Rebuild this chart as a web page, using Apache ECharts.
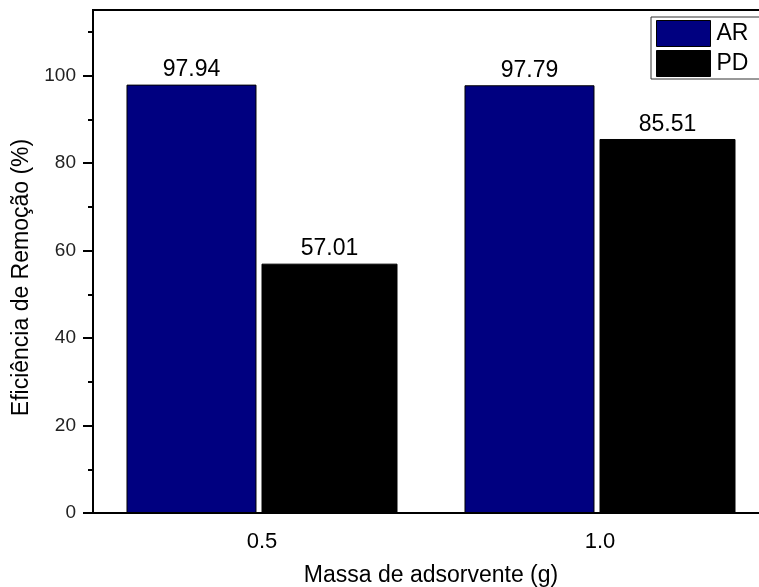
<!DOCTYPE html>
<html>
<head>
<meta charset="utf-8">
<script src="https://cdn.jsdelivr.net/npm/echarts@6/dist/echarts.min.js"></script>
<style>
html,body{margin:0;padding:0;background:#fff;}
#chart{width:759px;height:587px;}
</style>
</head>
<body>
<div id="chart"></div>
<script>
const categories = ['0.5', '1.0'];
const arValues = [97.94, 97.79];
const pdValues = [57.01, 85.51];
const majorTicks = [0, 20, 40, 60, 80, 100];
const minorTicks = [10, 30, 50, 70, 90, 110];
const seriesNames = ['AR', 'PD'];

const FONT = '"Liberation Sans", Arial, sans-serif';
const chart = echarts.init(document.getElementById('chart'));

const labelCfg = {
  show: true, position: 'top', distance: 3,
  color: '#000', fontSize: 23, fontFamily: FONT
};

chart.setOption({
  animation: false,
  backgroundColor: '#fff',
  grid: {
    left: 93, top: 10, width: 676, height: 503,
    containLabel: false, outerBoundsMode: 'none',
    show: true, borderColor: '#000', borderWidth: 2, backgroundColor: 'transparent'
  },
  legend: {
    data: seriesNames,
    orient: 'vertical',
    left: 651, top: 17,
    padding: [3, 60, 2, 5],
    itemWidth: 54, itemHeight: 26, itemGap: 3,
    icon: 'rect',
    borderColor: '#333', borderWidth: 1,
    itemStyle: { borderColor: '#000', borderWidth: 1 },
    textStyle: { fontSize: 23, fontFamily: FONT, color: '#000', padding: [0, 0, 0, 1] }
  },
  xAxis: {
    type: 'category',
    data: categories,
    position: 'bottom',
    name: 'Massa de adsorvente (g)',
    nameLocation: 'middle',
    nameGap: 51,
    nameTextStyle: { fontSize: 23, fontFamily: FONT, color: '#000' },
    axisLine: { show: true, lineStyle: { color: '#000', width: 2 } },
    axisTick: { show: false },
    axisLabel: { margin: 18, fontSize: 22, fontFamily: FONT, color: '#000' },
    splitLine: { show: false }
  },
  yAxis: [{
    type: 'value',
    min: 0, max: 115, interval: 20,
    name: 'Eficiência de Remoção (%)',
    nameLocation: 'middle',
    nameGap: 56,
    nameRotate: 90,
    nameTextStyle: { fontSize: 23, fontFamily: FONT, color: '#000', padding: [0, 32, 0, 0] },
    axisLine: { show: true, lineStyle: { color: '#000', width: 2 } },
    axisTick: { show: true, inside: false, length: 10, customValues: majorTicks, lineStyle: { color: '#000', width: 2 } },
    axisLabel: { margin: 17, fontSize: 19, fontFamily: FONT, color: '#222', customValues: majorTicks },
    splitLine: { show: false }
  }, {
    type: 'value',
    min: 0, max: 115, interval: 10,
    position: 'left',
    axisLine: { show: false },
    axisTick: { show: true, inside: false, length: 5, customValues: minorTicks, lineStyle: { color: '#000', width: 2 } },
    axisLabel: { show: false },
    splitLine: { show: false }
  }],
  series: [{
    name: seriesNames[0],
    type: 'bar',
    data: arValues,
    barWidth: 130,
    barGap: '3.85%',
    itemStyle: { color: '#000080', borderColor: '#000', borderWidth: 1 },
    label: labelCfg
  }, {
    name: seriesNames[1],
    type: 'bar',
    data: pdValues,
    barWidth: 136,
    barGap: '3.85%',
    itemStyle: { color: '#000000', borderColor: '#000', borderWidth: 1 },
    label: labelCfg
  }]
});
</script>
</body>
</html>
